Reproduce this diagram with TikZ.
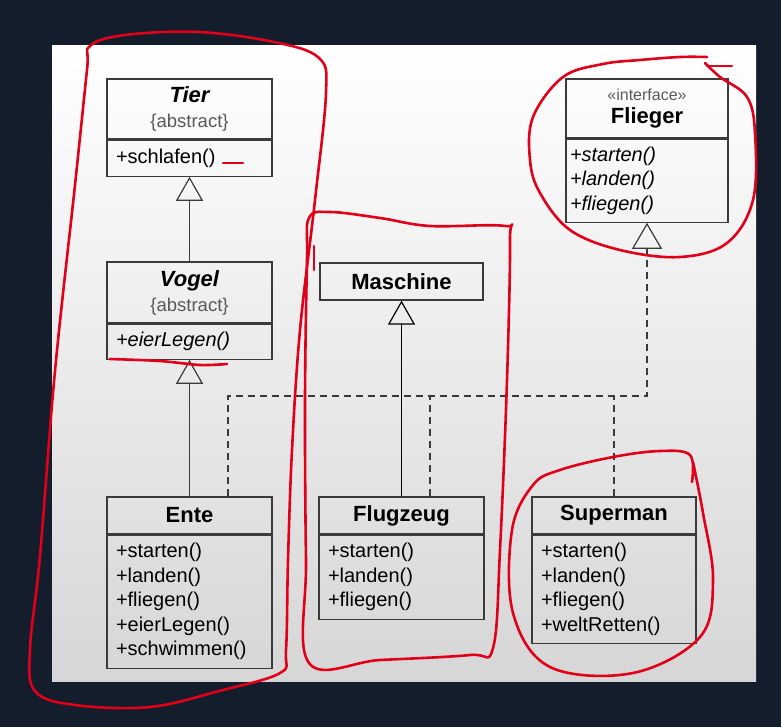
\documentclass[tikz,border=0pt]{standalone}
\usepackage{fontspec}
\setmainfont{Liberation Sans}
\usepackage{xcolor}
\usepackage{tikz}
\usetikzlibrary{arrows.meta,positioning,calc}

\definecolor{slidebg}{HTML}{141D2B}
\definecolor{umlline}{HTML}{3A3A3A}
\definecolor{marker}{HTML}{E0001A}

\tikzset{
    head/.style={draw=umlline, line width=1.2pt, inner sep=0pt, align=center, font=\fontsize{22}{25}\selectfont\bfseries},
    body/.style={draw=umlline, line width=1.2pt, inner xsep=9pt, inner ysep=0pt, align=left, anchor=north, font=\fontsize{20}{24.5}\selectfont},
    gen/.style={-{Triangle[open, length=24pt, width=27pt]}, umlline, line width=1.2pt},
    dashline/.style={umlline, line width=1.2pt, dash pattern=on 7pt off 5pt},
    markup/.style={draw=marker, line width=2.6pt, line cap=round, line join=round}
}
\newcommand{\abstractlabel}{{\fontsize{18.5}{25}\selectfont\mdseries\color{black!65}\{abstract\}}}

\begin{document}
\begin{tikzpicture}[x=1pt, y=-1pt]
    % Hintergrund
    \fill[slidebg] (0,0) rectangle (781,727);
    \shade[top color=white, middle color=white, bottom color=black!16] (52,46) rectangle (756,681);

    % Klassen links
    \node[head, minimum width=165pt, minimum height=60pt] (tierhead) at (189.5,109) {\itshape Tier\\\abstractlabel};
    \node[body, minimum width=165pt, minimum height=36pt, text width=147pt] (tierbody) at (tierhead.south) {+schlafen()};
    \node[head, minimum width=165pt, minimum height=61pt] (vogelhead) at (189.5,292.5) {\itshape Vogel\\\abstractlabel};
    \node[body, minimum width=165pt, minimum height=35pt, text width=147pt] (vogelbody) at (vogelhead.south) {\itshape +eierLegen()};
    \node[head, minimum width=165pt, minimum height=37pt] (entehead) at (189.5,515.5) {Ente};
    \node[body, minimum width=165pt, minimum height=133pt, text width=147pt] (entebody) at (entehead.south) {+starten()\\+landen()\\+fliegen()\\+eierLegen()\\+schwimmen()};

    % Klassen Mitte
    \node[head, minimum width=163pt, minimum height=37pt] (maschine) at (401.5,281.5) {Maschine};
    \node[head, minimum width=165pt, minimum height=37pt] (flughead) at (401.5,515.5) {Flugzeug};
    \node[body, minimum width=165pt, minimum height=84pt, text width=147pt] (flugbody) at (flughead.south) {+starten()\\+landen()\\+fliegen()};

    % Interface und Superman
    \node[head, minimum width=162pt, minimum height=59pt, font=\fontsize{22}{23}\selectfont\bfseries] (fliegerhead) at (647,108.5) {{\fontsize{16}{23}\selectfont\mdseries\color{black!65}«interface»}\\Flieger};
    \node[body, minimum width=162pt, minimum height=83pt, text width=154pt, inner xsep=4pt] (fliegerbody) at (fliegerhead.south) {\itshape +starten()\\+landen()\\+fliegen()};
    \node[head, minimum width=164pt, minimum height=37pt] (superhead) at (614,515.5) {Superman};
    \node[body, minimum width=164pt, minimum height=108pt, text width=146pt] (superbody) at (superhead.south) {+starten()\\+landen()\\+fliegen()\\+weltRetten()};

    % Vererbung
    \draw[gen] (vogelhead.north) -- (tierbody.south);
    \draw[gen] (entehead.north) -- (vogelbody.south);
    \draw[gen, black] (flughead.north) -- (maschine.south);

    % Realisierung
    \coordinate (entetap) at (228,396);
    \coordinate (flugtap) at (430,396);
    \coordinate (supertap) at (614,396);
    \coordinate (bus) at (647,396);
    \draw[dashline, -{Triangle[open, length=26pt, width=30pt]}] (entehead.north -| entetap) -- (entetap) -- (bus) -- (fliegerbody.south);
    \draw[dashline] (flughead.north -| flugtap) -- (flugtap);
    \draw[dashline] (superhead.north -| supertap) -- (supertap);

    % Markierungen
    \draw[markup] plot[smooth cycle, tension=0.6] coordinates {(90,46) (125,35) (199,32) (274,42) (319,58) (326,93) (315,200) (300,330) (292,450) (288,560) (286,650) (280,673) (219,691) (150,707) (75,705) (35,691) (30,649) (40,556) (55,371) (75,185) (87,70)};
    \draw[markup] plot[smooth cycle, tension=0.6] coordinates {(309,218) (330,212) (380,218) (430,226) (505,226) (510,240) (507,380) (500,550) (493,648) (470,655) (380,660) (309,663) (306,560) (305,400) (307,260)};
    \draw[markup] (314,246) -- (314,270);
    \draw[markup] plot[smooth, tension=0.6] coordinates {(707,57) (680,57) (640,60) (603,64) (563,77) (533,117) (530,160) (540,193) (570,230) (620,250) (680,257) (727,243) (753,200) (755,133) (747,97) (720,77) (705,63)};
    \draw[markup] (707,66) -- (732,66);
    \draw[markup] plot[smooth, tension=0.6] coordinates {(692,482) (690,455) (660,451) (613,457) (560,470) (533,485) (512,530) (513,613) (550,667) (633,673) (700,637) (713,580) (703,513) (693,462)};
    \draw[markup] (223,163) -- (243,163);
    \draw[markup] plot[smooth] coordinates {(110,359) (160,361) (200,365) (227,364)};
\end{tikzpicture}
\end{document}
